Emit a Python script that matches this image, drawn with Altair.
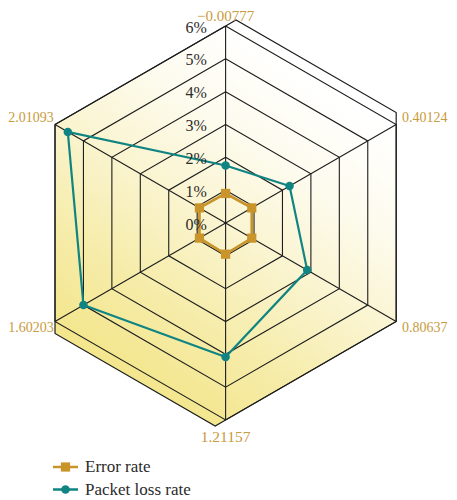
import altair as alt
import numpy as np
import pandas as pd

# ---------------- data ----------------
categories = ["\u22120.00777", "0.40124", "0.80637", "1.21157", "1.60203", "2.01093"]
series_names = ["Error rate", "Packet loss rate"]
error_rate = [0.90, 0.92, 0.92, 0.95, 0.92, 0.92]
packet_loss = [1.75, 2.25, 2.87, 4.08, 5.00, 5.55]
ring_values = [0, 1, 2, 3, 4, 5, 6]
ring_labels = ["0%", "1%", "2%", "3%", "4%", "5%", "6%"]

# ---------------- layout / style ----------------
W, H = 441, 492
PX = 32.83          # pixels per percent
CX, CY = 217.6, 215.0
XDOM = [-CX / PX, (W - CX) / PX]
YDOM = [-(H - CY) / PX, CY / PX]
FONT = "Liberation Serif"
GOLD = "#c89b3c"
SERIES_COLORS = ["#c9952b", "#0f8482"]
SERIES_SHAPES = ["square", "circle"]
SERIES_SIZE = [85, 72]
SERIES_WIDTH = [2.7, 2.2]
GRID = "#1e1e1e"
DEPTH = 0.366
RMAX = max(ring_values)
N = len(categories)
ang = np.deg2rad(np.arange(N) * 360.0 / N)


def pol(r, k):
    return float(r * np.sin(ang[k])), float(r * np.cos(ang[k]))


def X(f):
    return alt.X(f, type="quantitative", scale=alt.Scale(domain=XDOM, nice=False, zero=False), axis=None)


def Y(f):
    return alt.Y(f, type="quantitative", scale=alt.Scale(domain=YDOM, nice=False, zero=False), axis=None)


# ---------------- geometry from data ----------------
c30, s30 = np.cos(np.pi / 6), np.sin(np.pi / 6)
t30 = np.tan(np.pi / 6)
hx = RMAX * c30
sx, sy = DEPTH * c30, DEPTH * s30
yr = RMAX + sy - (hx - sx) * t30

area_df = pd.DataFrame({
    "x": [-hx, -sx, 0.0, sx, hx],
    "y": [-yr, -(RMAX + sy), -RMAX, -(RMAX - sx * t30), -RMAX * s30],
    "y2": [RMAX * s30, RMAX - sx * t30, RMAX, RMAX + sy, yr],
})

outline_pts = [(-hx, RMAX * s30), (0.0, RMAX), (sx, RMAX + sy), (hx, yr), (hx, -RMAX * s30),
               (0.0, -RMAX), (-sx, -(RMAX + sy)), (-hx, -yr), (-hx, RMAX * s30)]
outline_df = pd.DataFrame({"x": [p[0] for p in outline_pts], "y": [p[1] for p in outline_pts],
                           "o": list(range(len(outline_pts)))})

ring_rows = []
for v in ring_values[1:]:
    for i in range(N + 1):
        x, y = pol(v, i % N)
        ring_rows.append({"ring": v, "o": i, "x": x, "y": y})
rings_df = pd.DataFrame(ring_rows)

spokes_df = pd.DataFrame([{"x": 0.0, "y": 0.0, "x2": pol(RMAX, k)[0], "y2": pol(RMAX, k)[1]} for k in range(N)])

grad = alt.LinearGradient(
    gradient="linear",
    stops=[alt.GradientStop(color="#f3e68c", offset=0),
           alt.GradientStop(color="#f6ecaa", offset=0.25),
           alt.GradientStop(color="#faf4cf", offset=0.5),
           alt.GradientStop(color="#fdfbee", offset=0.75),
           alt.GradientStop(color="#ffffff", offset=1)],
    x1=0.42, y1=1.0, x2=0.87, y2=0.2,
)

layers = []
layers.append(alt.Chart(area_df).mark_area(fill=grad).encode(x=X("x"), y=Y("y"), y2="y2"))
layers.append(alt.Chart(rings_df).mark_line(color=GRID, strokeWidth=1.1).encode(
    x=X("x"), y=Y("y"), detail="ring:N", order="o:Q"))
layers.append(alt.Chart(spokes_df).mark_rule(color=GRID, strokeWidth=1.1).encode(
    x=X("x"), y=Y("y"), x2="x2", y2="y2"))
layers.append(alt.Chart(outline_df).mark_line(color=GRID, strokeWidth=1.2).encode(
    x=X("x"), y=Y("y"), order="o:Q"))

for s, vals, col, shp, sw, sz in zip(series_names, [error_rate, packet_loss], SERIES_COLORS,
                                     SERIES_SHAPES, SERIES_WIDTH, SERIES_SIZE):
    rows = []
    for i in range(N + 1):
        x, y = pol(vals[i % N], i % N)
        rows.append({"series": s, "o": i, "x": x, "y": y})
    sdf = pd.DataFrame(rows)
    layers.append(alt.Chart(sdf).mark_line(color=col, strokeWidth=sw).encode(x=X("x"), y=Y("y"), order="o:Q"))
    layers.append(alt.Chart(sdf.iloc[:N]).mark_point(filled=True, color=col, shape=shp, size=sz, opacity=1).encode(
        x=X("x"), y=Y("y")))

# category labels
lab_rows = []
for k, c in enumerate(categories):
    sa, ca = np.sin(ang[k]), np.cos(ang[k])
    if ca > 0.9:
        pos, r = "top", 6.29
    elif ca < -0.9:
        pos, r = "bottom", 6.52
    elif sa > 0:
        pos, r = "right", 6.4
    else:
        pos, r = "left", 6.4
    x, y = pol(r, k)
    lab_rows.append({"t": c, "x": x, "y": y, "pos": pos})
lab_df = pd.DataFrame(lab_rows)
for pos, a, dx, fs in [("top", "center", 0, 15), ("bottom", "center", 0, 15.5),
                       ("right", "left", -5.5, 14), ("left", "right", 10, 14)]:
    d = lab_df[lab_df["pos"] == pos]
    layers.append(alt.Chart(d).mark_text(font=FONT, fontSize=fs, color=GOLD, align=a, baseline="middle",
                                         dx=dx).encode(x=X("x"), y=Y("y"), text="t:N"))

tick_df = pd.DataFrame({"v": ring_values, "t": ring_labels, "x": [-0.57] * len(ring_values)})
layers.append(alt.Chart(tick_df).mark_text(font=FONT, fontSize=16, color="#2b2b2b", align="right",
                                           baseline="middle", dy=1.5).encode(x=X("x"), y=Y("v"), text="t:N"))

# legend (manual)
LEG_X0, LEG_X1, LEG_TX, LEG_Y0, LEG_DY = 45, 70, 77, 459, 22.5
for i, (s, col, shp, sz) in enumerate(zip(series_names, SERIES_COLORS, SERIES_SHAPES, SERIES_SIZE)):
    ly = LEG_Y0 + i * LEG_DY
    ldf = pd.DataFrame({"t": [s]})
    layers.append(alt.Chart(ldf).mark_rule(color=col, strokeWidth=2.5).encode(
        x=alt.value(LEG_X0), x2=alt.value(LEG_X1), y=alt.value(ly)))
    layers.append(alt.Chart(ldf).mark_point(filled=True, color=col, shape=shp, size=sz, opacity=1).encode(
        x=alt.value((LEG_X0 + LEG_X1) / 2), y=alt.value(ly)))
    layers.append(alt.Chart(ldf).mark_text(font=FONT, fontSize=17, color="#2b2b2b", align="left",
                                           baseline="middle").encode(
        x=alt.value(LEG_TX), y=alt.value(ly), text="t:N"))

chart = alt.layer(*layers).properties(
    width=W, height=H, padding=0, autosize=alt.AutoSizeParams(type="none"), background="white"
).configure_view(stroke=None)

chart.save("out.html", embed_options={"renderer": "svg", "actions": False})
